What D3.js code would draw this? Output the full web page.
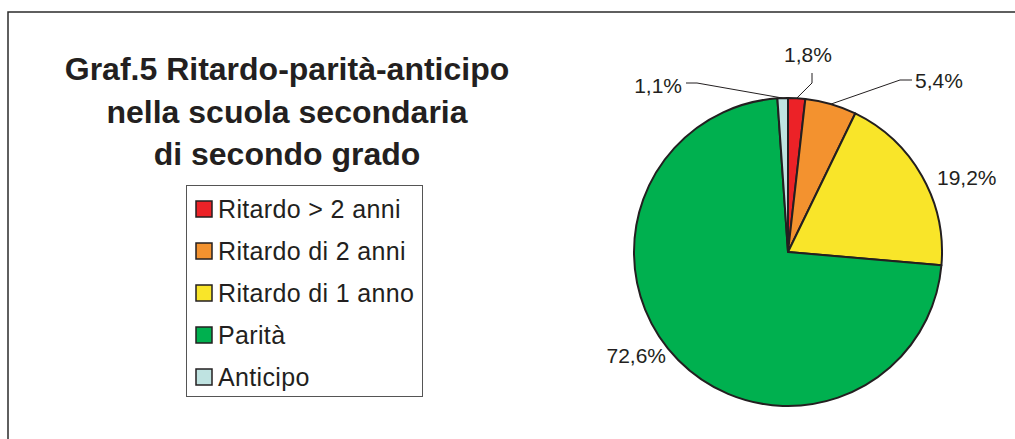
<!DOCTYPE html>
<html>
<head>
<meta charset="utf-8">
<script src="https://cdn.jsdelivr.net/npm/d3@7"></script>
<style>
  body { margin: 0; background: #fff; }
  svg { display: block; }
  text { font-family: "Liberation Sans", Arial, sans-serif; fill: #231f20; }
</style>
</head>
<body>
<div id="chart"></div>
<script>
// data
const categories = ["Ritardo > 2 anni", "Ritardo di 2 anni", "Ritardo di 1 anno", "Parità", "Anticipo"];
const values = [1.8, 5.4, 19.2, 72.6, 1.1];
const labels = ["1,8%", "5,4%", "19,2%", "72,6%", "1,1%"];
const colors = ["#ec2227", "#f3922f", "#f9e529", "#00b04f", "#bfe3e1"];
const titleLines = ["Graf.5 Ritardo-parità-anticipo", "nella scuola secondaria", "di secondo grado"];

const width = 1015, height = 439;
const cx = 788, cy = 252, radius = 154;

// label placement relative to pie centre (text pos, anchor, leader elbow/end or null)
const labelLayout = [
    { x: 20, y: -190, anchor: "middle", leader: [[24, -169], [24, -179]] },
    { x: 127, y: -164, anchor: "start", leader: [[112, -172], [124, -172]] },
    { x: 149, y: -67, anchor: "start", leader: null },
    { x: -122, y: 111, anchor: "end", leader: null },
    { x: -106, y: -159, anchor: "end", leader: [[-91, -169], [-102, -169]] }
];

const svg = d3.select("#chart").append("svg")
    .attr("width", width)
    .attr("height", height);

// outer frame (only top and left edges are visible)
svg.append("path")
    .attr("d", "M8," + height + "V12H" + width)
    .attr("fill", "none")
    .attr("stroke", "#2b2b2b")
    .attr("stroke-width", 1.5);

// title
svg.append("g").selectAll("text")
    .data(titleLines)
    .enter().append("text")
    .attr("x", 287)
    .attr("y", (d, i) => 80 + i * 42.5)
    .attr("text-anchor", "middle")
    .style("font-size", "32px")
    .style("font-weight", "bold")
    .text(d => d);

// legend
const legend = svg.append("g");
legend.append("rect")
    .attr("x", 186.5).attr("y", 185.5)
    .attr("width", 236).attr("height", 211)
    .attr("fill", "#fff")
    .attr("stroke", "#555")
    .attr("stroke-width", 1);

const legendY = d3.scalePoint().domain(categories).range([209, 377]);

const items = legend.selectAll(".item")
    .data(categories)
    .enter().append("g")
    .attr("class", "item")
    .attr("transform", d => "translate(0," + legendY(d) + ")");

items.append("rect")
    .attr("x", 196).attr("y", -8)
    .attr("width", 16).attr("height", 16)
    .attr("fill", (d, i) => colors[i])
    .attr("stroke", "#231f20")
    .attr("stroke-width", 1.5);

items.append("text")
    .attr("x", 218)
    .attr("y", 9)
    .style("font-size", "25px")
    .style("letter-spacing", "0.35px")
    .text(d => d);

// pie
const pie = d3.pie().sort(null).value(d => d);
const arcs = pie(values);
const arc = d3.arc().innerRadius(0).outerRadius(radius);

const g = svg.append("g").attr("transform", "translate(" + cx + "," + cy + ")");

g.selectAll("path.slice")
    .data(arcs)
    .enter().append("path")
    .attr("class", "slice")
    .attr("d", arc)
    .attr("fill", (d, i) => colors[i])
    .attr("stroke", "#231f20")
    .attr("stroke-width", 2)
    .attr("stroke-linejoin", "round");

// leader lines
const line = d3.line();
arcs.forEach((d, i) => {
    const lay = labelLayout[i];
    if (!lay.leader) return;
    const mid = (d.startAngle + d.endAngle) / 2;
    const start = [Math.sin(mid) * radius, -Math.cos(mid) * radius];
    g.append("path")
        .attr("d", line([start].concat(lay.leader)))
        .attr("fill", "none")
        .attr("stroke", "#231f20")
        .attr("stroke-width", 1);
});

// value labels
g.selectAll("text.label")
    .data(arcs)
    .enter().append("text")
    .attr("class", "label")
    .attr("x", (d, i) => labelLayout[i].x)
    .attr("y", (d, i) => labelLayout[i].y)
    .attr("text-anchor", (d, i) => labelLayout[i].anchor)
    .style("font-size", "21px")
    .text((d, i) => labels[i]);
</script>
</body>
</html>
